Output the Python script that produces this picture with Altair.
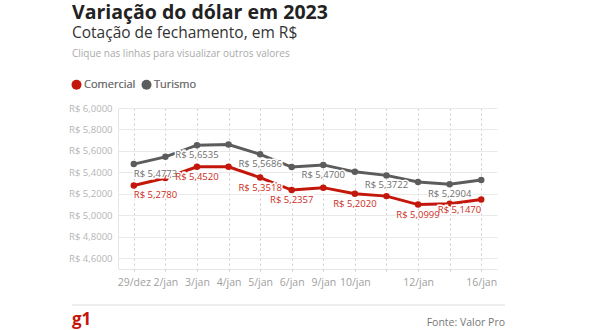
import altair as alt
import pandas as pd

# ---- data ----
dates = ["29/dez", "2/jan", "3/jan", "4/jan", "5/jan", "6/jan", "9/jan",
         "10/jan", "11/jan", "12/jan", "13/jan", "16/jan"]
comercial = [5.2780, 5.3480, 5.4520, 5.4520, 5.3518, 5.2357, 5.2580,
             5.2020, 5.1790, 5.0999, 5.1080, 5.1470]
turismo = [5.4773, 5.5450, 5.6535, 5.6600, 5.5686, 5.4500, 5.4700,
           5.4050, 5.3722, 5.3100, 5.2904, 5.3300]
comercial_labeled = ["29/dez", "3/jan", "5/jan", "6/jan", "10/jan", "12/jan", "16/jan"]
turismo_labeled = ["29/dez", "3/jan", "5/jan", "9/jan", "11/jan", "13/jan"]
hidden_ticks = ["11/jan", "13/jan"]
y_ticks = [4.6, 4.8, 5.0, 5.2, 5.4, 5.6, 5.8, 6.0]
series = ["Comercial", "Turismo"]
colors = ["#c4170c", "#5c5c5c"]
label_colors = ["#cc2b22", "#6e6e6e"]

title = "Variação do dólar em 2023"
subtitle = "Cotação de fechamento, em R$"
note = "Clique nas linhas para visualizar outros valores"
source = "Fonte: Valor Pro"
logo = "g1"

FONT = "Open Sans"

rows = []
for s, vals, lab in [("Comercial", comercial, comercial_labeled),
                     ("Turismo", turismo, turismo_labeled)]:
    for i, (d, v) in enumerate(zip(dates, vals)):
        pos = "first" if i == 0 else ("last" if i == len(dates) - 1 else "mid")
        rows.append({"data": d, "serie": s, "valor": v,
                     "show": d in lab, "pos": pos})
df = pd.DataFrame(rows)

hidden_js = "[" + ",".join("'%s'" % h for h in hidden_ticks) + "]"

x_enc = alt.X("data:N", scale=alt.Scale(domain=dates, type="point", padding=0.5),
              sort=dates,
              axis=alt.Axis(title=None, grid=True, gridDash=[2, 3], gridColor="#c8c8c8",
                            domain=True, domainColor="#e6e6e6",
                            ticks=True, tickDash=[2, 3], tickColor="#c8c8c8", tickSize=5,
                            labelAngle=0, labelFontSize=10.5, labelColor="#a0a0a0",
                            labelPadding=3, labelFont=FONT,
                            labelExpr="indexof(%s, datum.value) >= 0 ? '' : datum.value" % hidden_js))
y_enc = alt.Y("valor:Q", scale=alt.Scale(domain=[4.5, 6.0], nice=False, zero=False),
              axis=alt.Axis(title=None, values=y_ticks, grid=True, gridColor="#e9e9e9",
                            domain=True, domainColor="#e6e6e6", ticks=False,
                            labelPadding=6, labelFontSize=9.5, labelColor="#b5b5b5",
                            labelFont=FONT,
                            labelExpr="'R$ ' + replace(format(datum.value, '.4f'), '.', ',')"))
color_scale = alt.Scale(domain=series, range=colors)
legend = alt.Legend(title=None, orient="none", legendX=-47, legendY=-29,
                    direction="horizontal", symbolType="circle",
                    symbolSize=100, labelFontSize=11, labelColor="#777777",
                    labelFont=FONT, columnPadding=5, labelOffset=2,
                    symbolStrokeWidth=0)

base = alt.Chart(df)

lines = base.mark_line(strokeWidth=3).encode(
    x=x_enc, y=y_enc,
    color=alt.Color("serie:N", scale=color_scale, legend=legend),
)
points = base.mark_point(filled=True, size=42, opacity=1).encode(
    x=x_enc, y=y_enc,
    color=alt.Color("serie:N", scale=color_scale, legend=legend),
)

label_text = "'R$ ' + replace(format(datum.valor, '.4f'), '.', ',')"
label_scale = alt.Scale(domain=series, range=label_colors)

def label_layer(pos, align, halo):
    kw = dict(align=align, baseline="middle", dy=10, fontSize=9.5, font=FONT)
    if halo:
        mk = base.mark_text(stroke="white", strokeWidth=3, fill="white", **kw)
    else:
        mk = base.mark_text(**kw)
    ch = mk.transform_filter(
        (alt.datum.show == True) & (alt.datum.pos == pos)
    ).transform_calculate(lab=label_text).encode(x=x_enc, y=y_enc, text="lab:N")
    if not halo:
        ch = ch.encode(color=alt.Color("serie:N", scale=label_scale, legend=None))
    return ch

halos = [label_layer(p, a, True) for p, a in [("first", "left"), ("mid", "center"), ("last", "right")]]
texts = [label_layer(p, a, False) for p, a in [("first", "left"), ("mid", "center"), ("last", "right")]]

def annot(txt, x, y, size, color, weight="normal", align="left"):
    return alt.Chart(pd.DataFrame({"t": [txt]})).mark_text(
        align=align, baseline="alphabetic", fontSize=size, font=FONT,
        fontWeight=weight, color=color
    ).encode(x=alt.value(x), y=alt.value(y), text="t:N")

t1 = annot(title, -46, -89, 19.5, "#222222", "bold")
t2 = annot(subtitle, -46, -70.5, 15.5, "#333333")
t3 = annot(note, -46, -51, 10, "#aaaaaa")
t4 = annot(logo, -46, 217, 17, "#c4170c", "bold")
t5 = annot(source, 387, 218, 10.5, "#777777", align="right")
rule = alt.Chart(pd.DataFrame({"t": [0]})).mark_rule(color="#dddddd", strokeWidth=1).encode(
    x=alt.value(-46), x2=alt.value(387), y=alt.value(197))

chart = alt.layer(lines, points, *halos, *texts, t1, t2, t3, t4, t5, rule).resolve_scale(
    color="independent"
).properties(
    width=379, height=161,
    autosize=alt.AutoSizeParams(type="none"),
    padding={"left": 118, "top": 108, "right": 93, "bottom": 61},
    background="white",
).configure_view(stroke=None)

chart.save("out.html", embed_options={"renderer": "svg", "actions": False})
